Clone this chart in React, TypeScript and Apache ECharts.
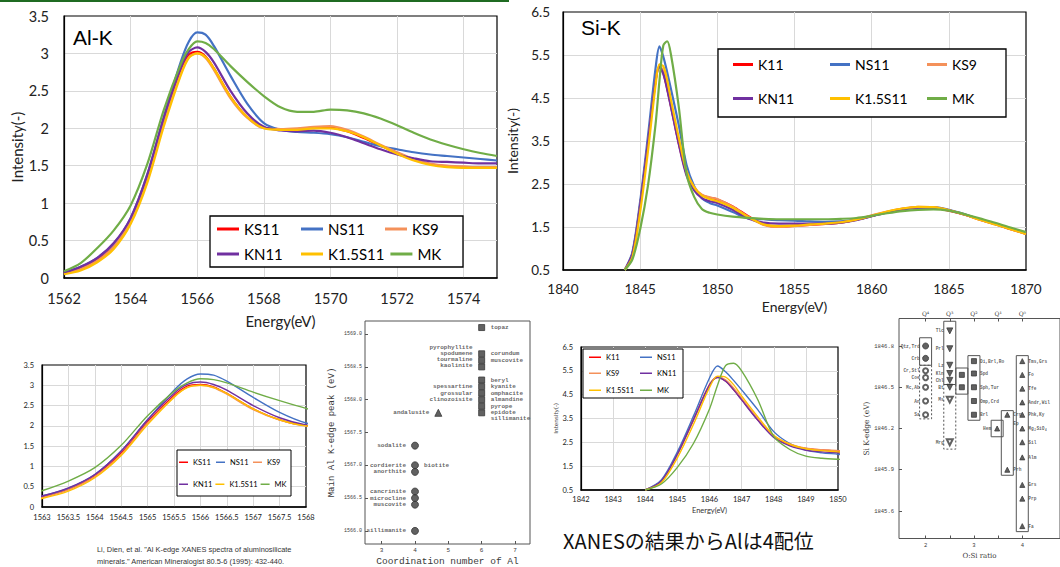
import React, { useEffect, useRef } from 'react';
import * as echarts from 'echarts';

// ---------------- Al K-edge spectra ----------------
const alEnergy = [1562, 1562.5, 1563, 1563.5, 1564, 1564.5, 1565, 1565.5, 1565.75, 1566, 1566.25, 1566.5, 1567, 1567.5, 1568, 1568.5, 1569, 1569.5, 1570, 1570.5, 1571, 1571.5, 1572, 1572.5, 1573, 1573.5, 1574, 1574.5, 1575];
const alKS11 = [0.06, 0.13, 0.25, 0.44, 0.77, 1.33, 2.1, 2.75, 2.98, 3.02, 2.96, 2.8, 2.42, 2.15, 2.01, 1.99, 1.99, 2.01, 2.01, 1.96, 1.87, 1.77, 1.67, 1.58, 1.52, 1.49, 1.48, 1.48, 1.48];
const alNS11 = [0.07, 0.15, 0.27, 0.46, 0.8, 1.38, 2.15, 2.88, 3.16, 3.28, 3.25, 3.1, 2.7, 2.33, 2.07, 1.98, 1.95, 1.94, 1.92, 1.88, 1.82, 1.76, 1.72, 1.68, 1.65, 1.63, 1.61, 1.59, 1.57];
const alKS9 = [0.06, 0.12, 0.23, 0.42, 0.75, 1.3, 2.07, 2.72, 2.95, 3.0, 2.94, 2.78, 2.4, 2.14, 2.0, 1.99, 2.0, 2.02, 2.03, 1.98, 1.89, 1.78, 1.68, 1.59, 1.53, 1.5, 1.49, 1.48, 1.48];
const alKN11 = [0.07, 0.15, 0.27, 0.47, 0.8, 1.38, 2.15, 2.8, 3.02, 3.08, 3.02, 2.88, 2.5, 2.2, 2.02, 1.97, 1.96, 1.97, 1.94, 1.88, 1.8, 1.72, 1.65, 1.6, 1.56, 1.55, 1.54, 1.53, 1.53];
const alK15S11 = [0.05, 0.1, 0.21, 0.39, 0.72, 1.27, 2.03, 2.7, 2.94, 3.0, 2.95, 2.8, 2.42, 2.15, 2.0, 1.98, 1.98, 2.0, 2.0, 1.96, 1.88, 1.77, 1.66, 1.57, 1.51, 1.48, 1.47, 1.47, 1.47];
const alMK = [0.09, 0.2, 0.4, 0.64, 0.97, 1.52, 2.25, 2.85, 3.06, 3.16, 3.14, 3.06, 2.83, 2.62, 2.43, 2.28, 2.22, 2.22, 2.25, 2.24, 2.2, 2.13, 2.04, 1.94, 1.85, 1.78, 1.72, 1.67, 1.63];

// ---------------- Si K-edge spectra ----------------
const siEnergy = [1844, 1844.5, 1845, 1845.5, 1846, 1846.25, 1846.5, 1846.75, 1847, 1847.5, 1848, 1848.5, 1849, 1849.5, 1850, 1851, 1852, 1853, 1854, 1855, 1856, 1857, 1858, 1859, 1860, 1861, 1862, 1863, 1864, 1865, 1866, 1867, 1868, 1869, 1870];
const siK11 = [0.5, 0.88, 2.02, 3.45, 4.92, 5.23, 5.08, 4.72, 4.3, 3.45, 2.75, 2.4, 2.24, 2.18, 2.14, 1.98, 1.75, 1.56, 1.51, 1.53, 1.55, 1.57, 1.6, 1.67, 1.76, 1.85, 1.92, 1.96, 1.95, 1.88, 1.79, 1.67, 1.57, 1.45, 1.34];
const siNS11 = [0.5, 0.92, 2.1, 3.6, 5.2, 5.7, 5.46, 5.1, 4.7, 3.87, 2.95, 2.45, 2.17, 2.06, 2.0, 1.85, 1.7, 1.68, 1.66, 1.65, 1.63, 1.62, 1.63, 1.67, 1.75, 1.84, 1.91, 1.95, 1.96, 1.9, 1.8, 1.68, 1.57, 1.46, 1.35];
const siKS9 = [0.5, 0.86, 1.98, 3.42, 4.9, 5.25, 5.12, 4.78, 4.35, 3.5, 2.77, 2.43, 2.25, 2.19, 2.15, 1.97, 1.74, 1.55, 1.5, 1.52, 1.55, 1.57, 1.6, 1.67, 1.77, 1.86, 1.93, 1.97, 1.96, 1.89, 1.79, 1.67, 1.56, 1.45, 1.34];
const siKN11 = [0.5, 0.88, 2.0, 3.45, 4.9, 5.22, 5.06, 4.7, 4.28, 3.43, 2.7, 2.35, 2.17, 2.1, 2.06, 1.9, 1.7, 1.6, 1.58, 1.58, 1.58, 1.58, 1.6, 1.66, 1.75, 1.84, 1.91, 1.95, 1.95, 1.89, 1.79, 1.68, 1.57, 1.46, 1.35];
const siK15S11 = [0.5, 0.8, 1.85, 3.25, 4.8, 5.28, 5.24, 4.92, 4.45, 3.58, 2.8, 2.42, 2.23, 2.15, 2.1, 1.95, 1.73, 1.56, 1.52, 1.53, 1.56, 1.58, 1.61, 1.67, 1.76, 1.86, 1.93, 1.97, 1.96, 1.89, 1.79, 1.67, 1.56, 1.45, 1.34];
const siMK = [0.5, 0.75, 1.45, 2.45, 3.9, 4.9, 5.72, 5.82, 5.5, 4.3, 2.75, 2.2, 1.92, 1.83, 1.79, 1.74, 1.71, 1.69, 1.68, 1.68, 1.68, 1.68, 1.69, 1.71, 1.76, 1.82, 1.87, 1.9, 1.91, 1.88, 1.8, 1.7, 1.6, 1.49, 1.38];

const alNames = ['KS11', 'NS11', 'KS9', 'KN11', 'K1.5S11', 'MK'];
const siNames = ['K11', 'NS11', 'KS9', 'KN11', 'K1.5S11', 'MK'];
const lineColors = ['#FF0000', '#4472C4', '#F4915A', '#7030A0', '#FFC000', '#70AD47'];

// ---------------- Li et al. (1995) Al coordination ----------------
const alCoord4 = [[4, 1567.3], [4, 1567.0], [4, 1566.9], [4, 1566.6], [4, 1566.5], [4, 1566.4], [4, 1566.0]];
const alCoord5 = [[4.7, 1567.8]];
const alCoord6 = [[6, 1569.1], [6, 1568.7], [6, 1568.6], [6, 1568.5], [6, 1568.3], [6, 1568.2], [6, 1568.1], [6, 1568.0], [6, 1567.9], [6, 1567.8]];
const alNamesLeft = [[4, 1567.3, 'sodalite'], [4, 1567.0, 'cordierite'], [4, 1566.9, 'anorthite'], [4, 1566.6, 'cancrinite'], [4, 1566.5, 'microcline'], [4, 1566.4, 'muscovite'], [4, 1566.0, 'sillimanite'], [4.7, 1567.8, 'andalusite'], [6, 1568.8, 'pyrophyllite'], [6, 1568.71, 'spodumene'], [6, 1568.61, 'tourmaline'], [6, 1568.52, 'kaolinite'], [6, 1568.2, 'spessartine'], [6, 1568.1, 'grossular'], [6, 1568.0, 'clinozoisite']];
const alNamesRight = [[4, 1567.0, 'biotite'], [6, 1569.1, 'topaz'], [6, 1568.7, 'corundum'], [6, 1568.6, 'muscovite'], [6, 1568.3, 'beryl'], [6, 1568.2, 'kyanite'], [6, 1568.1, 'omphacite'], [6, 1568.0, 'almandine'], [6, 1567.9, 'pyrope'], [6, 1567.8, 'epidote'], [6, 1567.71, 'sillimanite']];
const alCoordTicks = [3, 4, 5, 6, 7];
const alPeakTicks = [1566.0, 1566.5, 1567.0, 1567.5, 1568.0, 1568.5, 1569.0];

// ---------------- Li et al. (1995) Si K-edge vs O:Si ----------------
const siFilledCircle = [[2, 1846.8], [2, 1846.71]];
const siOpenCircle = [[2, 1846.62], [2, 1846.57], [2, 1846.5], [2, 1846.4], [2, 1846.3]];
const siDownTri = [[2.5, 1846.91], [2.5, 1846.78], [2.5, 1846.66], [2.5, 1846.6], [2.5, 1846.55], [2.5, 1846.5]];
const siDownTriOpen = [[2.5, 1846.41], [2.5, 1846.1]];
const siSquare = [[2.75, 1846.59], [2.75, 1846.5], [3, 1846.69], [3, 1846.6], [3, 1846.5], [3, 1846.4], [3, 1846.3]];
const siUpTri = [[3.48, 1846.2], [3.69, 1846.3], [3.69, 1845.9], [4, 1846.69], [4, 1846.59], [4, 1846.49], [4, 1846.39], [4, 1846.3], [4, 1846.2], [4, 1846.1], [4, 1845.99], [4, 1845.79], [4, 1845.69], [4, 1845.49]];
const siBoxes = [[2, 1846.66, 1846.86, 0], [2, 1846.27, 1846.66, 1], [2.5, 1846.52, 1846.98, 0], [2.5, 1846.05, 1846.52, 1], [2.75, 1846.45, 1846.64, 0], [3, 1846.26, 1846.73, 0], [3.48, 1846.14, 1846.26, 0], [3.69, 1845.86, 1846.33, 0], [4, 1845.45, 1846.73, 0]];
const siNamesLeft = [[2, 1846.8, 'Qtz,Trd'], [2, 1846.71, 'Crb'], [2, 1846.62, 'Cr,Stl'], [2, 1846.57, 'Coe'], [2, 1846.5, 'Mc,Ab'], [2, 1846.4, 'An'], [2, 1846.3, 'Sa'], [2.5, 1846.91, 'Tlc'], [2.5, 1846.78, 'Prl'], [2.5, 1846.66, 'Lz'], [2.5, 1846.6, 'Kln'], [2.5, 1846.55, 'Chl'], [2.5, 1846.5, 'Bt'], [2.5, 1846.41, 'Ms'], [2.5, 1846.1, 'Mrg'], [3.48, 1846.2, 'Hem']];
const siNamesRight = [[3, 1846.69, 'Di,Brl,Ro'], [3, 1846.6, 'Spd'], [3, 1846.5, 'Sph,Tur'], [3, 1846.4, 'Omp,Crd'], [3, 1846.3, 'Brl'], [3.69, 1846.3, 'Crn'], [3.69, 1846.24, 'Ep'], [3.69, 1845.9, 'Prh'], [4, 1846.69, 'Tms,Grs'], [4, 1846.59, 'Fo'], [4, 1846.49, 'Tfe'], [4, 1846.39, 'Andr,Wil'], [4, 1846.3, 'Phk,Ky'], [4, 1846.2, 'Mg\u2082SiO\u2084'], [4, 1846.1, 'Sil'], [4, 1845.99, 'Alm'], [4, 1845.79, 'Grs'], [4, 1845.69, 'Prp'], [4, 1845.49, 'Fa']];
const oSiTicks = [2, 3, 4];
const qPositions = [2, 2.5, 3, 3.5, 4];
const qLabels = ['Q\u2074', 'Q\u00B3', 'Q\u00B2', 'Q\u00B9', 'Q\u2070'];
const siEdgeTicks = [1845.6, 1845.9, 1846.2, 1846.5, 1846.8];

const FONT = 'Lato, "Noto Sans", sans-serif';
const MONO = '"Liberation Mono", "DejaVu Sans Mono", monospace';
const GRIDC = '#D9D9D9';
const SCAN = '#3a3a3a';
const plain = (v: number) => String(v);

function lines(names: string[], xs: number[], values: number[][], axisIdx: number, width: number) {
  return names.map((n, i) => ({
    type: 'line', name: n, xAxisIndex: axisIdx, yAxisIndex: axisIdx,
    data: xs.map((x, j) => [x, values[i][j]]),
    symbol: 'none', showSymbol: false, smooth: 0.3, clip: true,
    lineStyle: { color: lineColors[i], width }, itemStyle: { color: lineColors[i] }, z: 3,
  }));
}

function specX(gi: number, min: number, max: number, interval: number, fs: number, margin: number, extra: any = {}) {
  return {
    type: 'value', gridIndex: gi, min, max, interval,
    axisLine: { show: true, lineStyle: { color: '#000', width: 1.5 } },
    axisTick: { show: false },
    axisLabel: { fontSize: fs, color: '#222', margin, fontFamily: FONT, formatter: plain, showMaxLabel: extra.showMax !== false },
    splitLine: { show: true, showMinLine: false, showMaxLine: false, lineStyle: { color: GRIDC, width: 1 } },
    ...extra.rest,
  };
}
function specY(gi: number, min: number, max: number, interval: number, fs: number, margin: number, extra: any = {}) {
  return {
    type: 'value', gridIndex: gi, min, max, interval,
    axisLine: { show: true, lineStyle: { color: '#000', width: 1.2 } },
    axisTick: { show: false },
    axisLabel: { fontSize: fs, color: '#222', margin, fontFamily: FONT, formatter: plain },
    splitLine: { show: true, showMinLine: false, showMaxLine: false, lineStyle: { color: GRIDC, width: 1 } },
    ...extra,
  };
}

function textScatter(data: any[], axis: number, pos: string, fs: number, dist: number) {
  return {
    type: 'scatter', xAxisIndex: axis, yAxisIndex: axis, symbolSize: 0, silent: true, z: 4,
    data: data.map((d) => ({ value: [d[0], d[1]], name: d[2] })),
    label: { show: true, position: pos, distance: dist, formatter: '{b}', fontSize: fs, fontFamily: MONO, fontWeight: 'bold', color: SCAN },
  };
}
function pointScatter(data: number[][], axis: number, symbol: string, size: number, rotate = 0) {
  return {
    type: 'scatter', xAxisIndex: axis, yAxisIndex: axis, data, symbol, symbolSize: size, symbolRotate: rotate, silent: true,
    itemStyle: { color: SCAN, borderColor: SCAN, borderWidth: 1 }, z: 3,
  };
}

function legendRow(data: string[], left: number, top: number, fs: number, iw: number, ih: number, tw: number | undefined, gap: number) {
  return {
    data, left, top, orient: 'horizontal', icon: 'rect', itemWidth: iw, itemHeight: ih, itemGap: gap, padding: 0,
    selectedMode: false, z: 10,
    textStyle: { fontSize: fs, color: '#000', fontFamily: FONT, width: tw, lineHeight: fs + 3 },
  };
}

function buildOption(): any {
  const alVals = [alKS11, alNS11, alKS9, alKN11, alK15S11, alMK];
  const siVals = [siK11, siNS11, siKS9, siKN11, siK15S11, siMK];
  const frame = { show: true, borderColor: '#000', borderWidth: 1.2, backgroundColor: '#fff' };
  return {
    animation: false,
    backgroundColor: '#fff',
    grid: [
      { left: 64, top: 16, width: 433, height: 262, ...frame },
      { left: 563, top: 12, width: 463, height: 258, ...frame },
      { left: 42, top: 365, width: 264, height: 142, ...frame },
      { left: 581, top: 347, width: 257, height: 143, ...frame },
      { left: 365, top: 321, width: 165, height: 223, show: true, borderColor: '#555', borderWidth: 1 },
      { left: 899, top: 318.5, width: 175, height: 220, show: true, borderColor: '#555', borderWidth: 1 },
    ],
    xAxis: [
      specX(0, 1562, 1575, 2, 14.5, 13, { showMax: false, rest: { name: 'Energy(eV)', nameLocation: 'middle', nameGap: 35, nameTextStyle: { fontSize: 15, color: '#222', fontFamily: FONT } } }),
      specX(1, 1840, 1870, 5, 13.5, 12, { rest: { name: 'Energy(eV)', nameLocation: 'middle', nameGap: 29, nameTextStyle: { fontSize: 14, color: '#222', fontFamily: FONT } } }),
      specX(2, 1563, 1568, 0.5, 7.5, 6),
      specX(3, 1842, 1850, 1, 7.5, 5, { rest: { name: 'Energy(eV)', nameLocation: 'middle', nameGap: 16, nameTextStyle: { fontSize: 7.5, color: '#333', fontFamily: FONT } } }),
      {
        type: 'value', gridIndex: 4, min: 2.5, max: 7.45,
        axisLine: { show: false }, splitLine: { show: false },
        axisTick: { show: true, inside: true, length: 3, customValues: alCoordTicks, lineStyle: { color: '#555' } },
        axisLabel: { customValues: alCoordTicks, fontSize: 6, color: SCAN, margin: 3, fontFamily: MONO, formatter: plain },
        name: 'Coordination number of Al', nameLocation: 'middle', nameGap: 12,
        nameTextStyle: { fontSize: 9.5, color: SCAN, fontFamily: MONO },
      },
      {
        type: 'value', gridIndex: 5, min: 1.45, max: 4.78,
        axisLine: { show: false }, splitLine: { show: false },
        axisTick: { show: true, inside: true, length: 3, customValues: qPositions, lineStyle: { color: '#555' } },
        axisLabel: { customValues: oSiTicks, fontSize: 5.5, color: SCAN, margin: 4, fontFamily: MONO, formatter: plain },
        name: 'O:Si ratio', nameLocation: 'middle', nameGap: 14,
        nameTextStyle: { fontSize: 7, color: SCAN, fontFamily: 'DejaVu Serif, serif' },
      },
      {
        type: 'value', gridIndex: 5, min: 1.45, max: 4.78, position: 'top',
        axisLine: { show: false }, splitLine: { show: false },
        axisTick: { show: true, inside: true, length: 3, customValues: qPositions, lineStyle: { color: '#555' } },
        axisLabel: {
          customValues: qPositions, fontSize: 6, color: SCAN, margin: 2, fontFamily: 'DejaVu Serif, serif',
          formatter: (v: number) => qLabels[qPositions.indexOf(v)] || '',
        },
      },
    ],
    yAxis: [
      specY(0, 0, 3.5, 0.5, 14.5, 15, { name: 'Intensity(-)', nameLocation: 'middle', nameGap: 40, nameTextStyle: { fontSize: 15, color: '#222', fontFamily: FONT } }),
      specY(1, 0.5, 6.5, 1, 13.5, 13, { name: 'Intensity(-)', nameLocation: 'middle', nameGap: 44, nameTextStyle: { fontSize: 14, color: '#222', fontFamily: FONT } }),
      specY(2, 0, 3.5, 0.5, 7.5, 8),
      specY(3, 0.5, 6.5, 1, 7.5, 8, { name: 'Intensity(-)', nameLocation: 'middle', nameGap: 22, nameTextStyle: { fontSize: 6.5, color: '#444', fontFamily: FONT } }),
      {
        type: 'value', gridIndex: 4, min: 1565.8, max: 1569.2,
        axisLine: { show: false }, splitLine: { show: false },
        axisTick: { show: true, inside: true, length: 3, customValues: alPeakTicks, lineStyle: { color: '#555' } },
        axisLabel: { customValues: alPeakTicks, fontSize: 5, color: SCAN, margin: 3, fontFamily: MONO, formatter: (v: number) => v.toFixed(1) },
        name: 'Main Al K-edge peak (eV)', nameLocation: 'middle', nameGap: 29,
        nameTextStyle: { fontSize: 9, color: SCAN, fontFamily: MONO },
      },
      {
        type: 'value', gridIndex: 5, min: 1845.4, max: 1847.0,
        axisLine: { show: false }, splitLine: { show: false },
        axisTick: { show: true, inside: true, length: 3, customValues: siEdgeTicks, lineStyle: { color: '#555' } },
        axisLabel: { customValues: siEdgeTicks, fontSize: 5.5, color: SCAN, margin: 5, fontFamily: MONO, formatter: (v: number) => v.toFixed(1) },
        name: 'Si K-edge (eV)', nameLocation: 'middle', nameGap: 28,
        nameTextStyle: { fontSize: 7.5, color: SCAN, fontFamily: 'DejaVu Serif, serif' },
      },
    ],
    legend: [
      legendRow(['KS11', 'NS11', 'KS9'], 217, 220, 15, 22, 3, 51, 6),
      legendRow(['KN11', 'K1.5S11', 'MK'], 217, 245, 15, 22, 3, 51, 6),
      legendRow(['K11', 'NS11', 'KS9'], 733, 56, 14, 20, 3, 66, 6),
      legendRow(['KN11', 'K1.5S11', 'MK'], 733, 90, 14, 20, 3, 66, 6),
      legendRow(['KS11', 'NS11', 'KS9'], 179, 457, 7.5, 9, 1.5, 20, 3),
      legendRow(['KN11', 'K1.5S11', 'MK'], 179, 479, 7.5, 9, 1.5, undefined, 3),
      legendRow(['K11', 'NS11'], 589, 352, 7.5, 12, 1.5, 31, 3),
      legendRow(['KS9', 'KN11'], 589, 368, 7.5, 12, 1.5, 31, 3),
      legendRow(['K1.5S11', 'MK'], 589, 385, 7.5, 12, 1.5, 31, 3),
    ],
    series: [
      ...lines(alNames, alEnergy, alVals, 0, 2.2),
      ...lines(siNames, siEnergy, siVals, 1, 2.2),
      ...lines(alNames, alEnergy, alVals, 2, 1.4),
      ...lines(siNames, siEnergy, siVals, 3, 1.4),
      pointScatter(alCoord4, 4, 'circle', 7),
      pointScatter(alCoord5, 4, 'triangle', 7),
      pointScatter(alCoord6, 4, 'rect', 6),
      textScatter(alNamesLeft, 4, 'left', 6, 9),
      textScatter(alNamesRight, 4, 'right', 6, 9),
      {
        type: 'custom', xAxisIndex: 5, yAxisIndex: 5, data: siBoxes, silent: true, z: 2,
        renderItem: (params: any, api: any) => {
          const x = api.value(0), lo = api.value(1), hi = api.value(2), dashed = api.value(3);
          const p1 = api.coord([x, hi]);
          const p2 = api.coord([x, lo]);
          const style: any = { fill: 'none', stroke: '#555', lineWidth: 1 };
          if (dashed) style.lineDash = [2, 2];
          return { type: 'rect', shape: { x: p1[0] - 6, y: p1[1], width: 12, height: p2[1] - p1[1] }, style };
        },
      },
      pointScatter(siFilledCircle, 5, 'circle', 6),
      pointScatter(siOpenCircle, 5, 'emptyCircle', 5),
      pointScatter(siDownTri, 5, 'triangle', 6, 180),
      pointScatter(siDownTriOpen, 5, 'emptyTriangle', 6, 180),
      pointScatter(siSquare, 5, 'rect', 5),
      pointScatter(siUpTri, 5, 'triangle', 5),
      textScatter(siNamesLeft, 5, 'left', 4.5, 6),
      textScatter(siNamesRight, 5, 'right', 4.5, 6),
    ],
    graphic: [
      { type: 'line', shape: { x1: 0, y1: 1, x2: 509, y2: 1 }, style: { stroke: '#1F6B22', lineWidth: 2 }, z: 20 },
      { type: 'text', left: 73, top: 27, z: 20, style: { text: 'Al-K', fontSize: 21, fontFamily: '"Liberation Sans", Arial, sans-serif', fill: '#000' } },
      { type: 'text', left: 581, top: 17, z: 20, style: { text: 'Si-K', fontSize: 21, fontFamily: '"Liberation Sans", Arial, sans-serif', fill: '#000' } },
      { type: 'rect', shape: { x: 210, y: 216, width: 253, height: 51 }, style: { fill: '#fff', stroke: '#000', lineWidth: 1.3 }, z: 5 },
      { type: 'rect', shape: { x: 718, y: 49, width: 288, height: 68 }, style: { fill: '#fff', stroke: '#000', lineWidth: 1.3 }, z: 5 },
      { type: 'rect', shape: { x: 177, y: 450, width: 114, height: 46 }, style: { fill: '#fff', stroke: '#000', lineWidth: 1 }, z: 5 },
      { type: 'rect', shape: { x: 583, y: 349, width: 100, height: 49 }, style: { fill: '#fff', stroke: '#000', lineWidth: 1 }, z: 5 },
      {
        type: 'text', left: 97, top: 544, z: 20,
        style: {
          text: 'Li, Dien, et al. "Al K-edge XANES spectra of aluminosilicate\nminerals." American Mineralogist 80.5-6 (1995): 432-440.',
          fontSize: 7.4, lineHeight: 11.5, fontFamily: '"Liberation Sans", Arial, sans-serif', fill: '#333',
        },
      },
      { type: 'text', left: 563, top: 530, z: 20, style: { text: 'XANESの結果からAlは4配位', fontSize: 20, fontFamily: '"Noto Sans CJK JP", sans-serif', fill: '#111' } },
    ],
  };
}

export default function App() {
  const ref = useRef<HTMLDivElement>(null);
  useEffect(() => {
    const chart = echarts.init(ref.current as HTMLDivElement, null, { renderer: 'svg' });
    chart.setOption(buildOption());
    return () => chart.dispose();
  }, []);
  return <div ref={ref} style={{ position: 'absolute', left: 0, top: 0, width: 1060, height: 567, background: '#fff' }} />;
}
